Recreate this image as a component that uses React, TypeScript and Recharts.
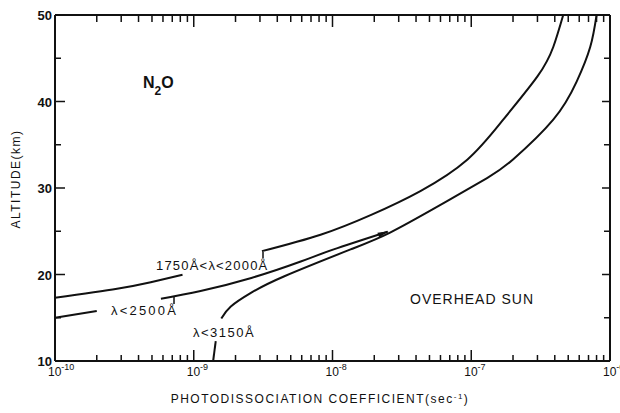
import React from 'react'
import { LineChart, Line, XAxis, YAxis, ReferenceLine, Customized } from 'recharts'

// photodissociation coefficient (sec^-1) against altitude (km)
const band1750Left = [
  { j: 1.0e-10, alt: 17.3 },
  { j: 2.8e-10, alt: 18.35 },
  { j: 4.9e-10, alt: 19.1 },
  { j: 8.3e-10, alt: 19.97 },
]
const band1750Right = [
  { j: 3.1e-9, alt: 22.7 },
  { j: 8.2e-9, alt: 24.6 },
  { j: 1.9e-8, alt: 26.9 },
  { j: 4.3e-8, alt: 29.65 },
  { j: 9.4e-8, alt: 33.3 },
  { j: 1.7e-7, alt: 37.9 },
  { j: 3.0e-7, alt: 42.9 },
  { j: 3.9e-7, alt: 46.3 },
  { j: 4.6e-7, alt: 50 },
]
const band2500Left = [
  { j: 1.0e-10, alt: 15.0 },
  { j: 2.0e-10, alt: 15.77 },
]
const band2500Right = [
  { j: 5.8e-10, alt: 17.2 },
  { j: 1.12e-9, alt: 18.1 },
  { j: 2.6e-9, alt: 19.6 },
  { j: 5.9e-9, alt: 21.5 },
  { j: 1.02e-8, alt: 22.9 },
  { j: 2.5e-8, alt: 24.95 },
]
const band3150Low = [
  { j: 1.38e-9, alt: 10 },
  { j: 1.44e-9, alt: 12.3 },
]
const band3150 = [
  { j: 1.58e-9, alt: 14.9 },
  { j: 1.85e-9, alt: 16.3 },
  { j: 2.6e-9, alt: 17.9 },
  { j: 4.5e-9, alt: 19.8 },
  { j: 1.35e-8, alt: 22.9 },
  { j: 2.6e-8, alt: 24.85 },
  { j: 5.7e-8, alt: 27.85 },
  { j: 1.3e-7, alt: 31.15 },
  { j: 2.0e-7, alt: 33.3 },
  { j: 3.9e-7, alt: 37.9 },
  { j: 5.75e-7, alt: 42.3 },
  { j: 7.2e-7, alt: 46.3 },
  { j: 8.0e-7, alt: 50 },
]

const xDecades = [1e-10, 1e-9, 1e-8, 1e-7, 1e-6]
const xMinorSteps = [2, 3, 4, 5, 6, 7, 8, 9]
const yMajor = [10, 20, 30, 40, 50]
const yMinor = [15, 25, 35, 45]

const xTicks = [
  ...xDecades,
  ...xDecades.slice(0, -1).flatMap((d) => xMinorSteps.map((m) => m * d)),
].sort((a, b) => a - b)
const yTicks = [...yMajor, ...yMinor].sort((a, b) => a - b)

const W = 620
const H = 413
const M = { top: 15, right: 10, bottom: 12, left: 10 }
const X_AXIS_H = 40
const Y_AXIS_W = 45
const PLOT_W = W - M.left - M.right - Y_AXIS_W
const PLOT_H = H - M.top - M.bottom - X_AXIS_H
const X_MIN = 1e-10
const X_MAX = 1e-6
const Y_MIN = 10
const Y_MAX = 50

// tick lengths in px, turned into data units so the tick marks go through the axis scales
const kmPerPx = (Y_MAX - Y_MIN) / PLOT_H
const decPerPx = Math.log10(X_MAX / X_MIN) / PLOT_W

const tickSegments = [
  ...xTicks.flatMap((v) => {
    const major = xDecades.includes(v)
    return [
      [{ j: v, alt: Y_MIN }, { j: v, alt: Y_MIN + (major ? 11 : 6) * kmPerPx }],
      [{ j: v, alt: Y_MAX }, { j: v, alt: Y_MAX - (major ? 12 : 7) * kmPerPx }],
    ]
  }),
  ...yTicks.flatMap((v) => {
    const major = yMajor.includes(v)
    return [
      [{ j: X_MIN, alt: v }, { j: X_MIN * Math.pow(10, (major ? 10 : 6) * decPerPx), alt: v }],
      [{ j: X_MAX / Math.pow(10, (major ? 8 : 6) * decPerPx), alt: v }, { j: X_MAX, alt: v }],
    ]
  }),
]

const FONT = '"Liberation Sans", Arial, sans-serif'
const INK = '#111'

const BottomLabel = (props: any) => {
  const { x, y, payload } = props
  if (!xDecades.includes(payload.value)) return <g />
  const exp = Math.round(Math.log10(payload.value))
  return (
    <text x={x - 7} y={y + 15} fontSize={12} fontFamily={FONT} fill={INK}>
      10
      <tspan dy={-6} fontSize={9}>
        {String(exp)}
      </tspan>
    </text>
  )
}

const LeftLabel = (props: any) => {
  const { x, y, payload } = props
  if (!yMajor.includes(payload.value)) return <g />
  return (
    <text x={x - 3} y={y + 5} textAnchor="end" fontSize={13} fontWeight="bold" fontFamily={FONT} fill={INK}>
      {payload.value}
    </text>
  )
}

const arrowDot = (props: any) => {
  const { cx, cy, index } = props
  if (index !== band2500Right.length - 1) return <g key={index} />
  return (
    <path
      key={index}
      transform={`translate(${cx},${cy}) rotate(-20)`}
      d="M1,0 L-10,-2.6 L-10,2.6 Z"
      fill={INK}
    />
  )
}

const Annotations = () => (
  <g fontFamily={FONT} fill={INK}>
    <text x={143} y={88} fontSize={16} fontWeight="bold">
      N
      <tspan dy={7} fontSize={12}>2</tspan>
      <tspan dy={-7}>O</tspan>
    </text>
    <text x={410} y={304} fontSize={14} letterSpacing={1}>
      OVERHEAD SUN
    </text>
    <text x={156} y={270} fontSize={13} letterSpacing={1.2}>
      1750Å&lt;λ&lt;2000Å
    </text>
    <text x={111} y={315} fontSize={13} letterSpacing={2.2}>
      λ&lt;2500Å
    </text>
    <text x={193} y={337} fontSize={13} letterSpacing={1.5}>
      λ&lt;3150Å
    </text>
    <line x1={263} y1={252} x2={263} y2={258} stroke={INK} strokeWidth={1.5} />
    <line x1={174} y1={297} x2={174} y2={304} stroke={INK} strokeWidth={1.5} />
    <text transform="translate(20,179) rotate(-90)" textAnchor="middle" fontSize={12} letterSpacing={1.5}>
      ALTITUDE(km)
    </text>
    <text x={320} y={403} textAnchor="middle" fontSize={12} letterSpacing={1.5}>
      PHOTODISSOCIATION COEFFICIENT(sec
      <tspan dy={-4} fontSize={8}>-1</tspan>
      <tspan dy={4}>)</tspan>
    </text>
  </g>
)

const curve = {
  type: 'natural' as const,
  dataKey: 'alt',
  stroke: INK,
  strokeWidth: 2,
  dot: false,
  isAnimationActive: false,
  xAxisId: 'bottom',
  yAxisId: 'left',
}

export default function App() {
  return (
    <div style={{ position: 'fixed', left: 0, top: 0, width: W, height: H, background: '#fff' }}>
      <LineChart width={W} height={H} margin={M}>
        <XAxis
          xAxisId="bottom"
          dataKey="j"
          type="number"
          scale="log"
          domain={[X_MIN, X_MAX]}
          ticks={xTicks}
          interval={0}
          height={X_AXIS_H}
          tickSize={0}
          tickMargin={0}
          axisLine={{ stroke: INK, strokeWidth: 2 }}
          tickLine={false}
          tick={<BottomLabel />}
        />
        <YAxis
          yAxisId="left"
          type="number"
          domain={[Y_MIN, Y_MAX]}
          ticks={yTicks}
          interval={0}
          width={Y_AXIS_W}
          tickSize={0}
          tickMargin={0}
          axisLine={{ stroke: INK, strokeWidth: 2 }}
          tickLine={false}
          tick={<LeftLabel />}
        />
        <ReferenceLine xAxisId="bottom" yAxisId="left" y={Y_MAX} stroke={INK} strokeWidth={2} />
        <ReferenceLine xAxisId="bottom" yAxisId="left" x={X_MAX} stroke={INK} strokeWidth={2} />
        {tickSegments.map((seg, i) => (
          <Line
            key={`tick${i}`}
            {...curve}
            type="linear"
            strokeWidth={1.5}
            data={seg}
          />
        ))}
        <Line {...curve} data={band1750Left} />
        <Line {...curve} data={band1750Right} />
        <Line {...curve} data={band2500Left} />
        <Line {...curve} data={band2500Right} dot={arrowDot} />
        <Line {...curve} type="monotone" data={band3150Low} />
        <Line {...curve} data={band3150} />
        <Customized component={Annotations} />
      </LineChart>
    </div>
  )
}
